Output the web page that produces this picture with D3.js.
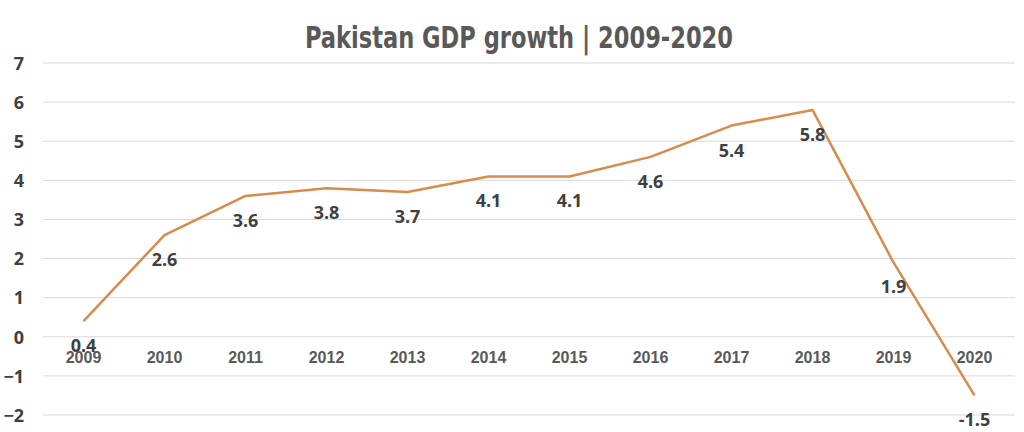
<!DOCTYPE html>
<html><head><meta charset="utf-8">
<script src="https://cdn.jsdelivr.net/npm/d3@7"></script>
<style>body{margin:0;background:#fff}svg{display:block}</style>
</head><body>
<script>
const years = ["2009","2010","2011","2012","2013","2014","2015","2016","2017","2018","2019","2020"];
const growth = [0.4,2.6,3.6,3.8,3.7,4.1,4.1,4.6,5.4,5.8,1.9,-1.5];
const yTicks = [-2,-1,0,1,2,3,4,5,6,7];
const title = "Pakistan GDP growth | 2009-2020";

const W=1024,H=432;
const svg=d3.select("body").append("svg").attr("width",W).attr("height",H);
const x=d3.scaleBand().domain(years).range([43,1015]);
const y=d3.scaleLinear().domain([-2,7]).range([415,63]);

svg.append("text").attr("x",519).attr("y",48).attr("text-anchor","middle")
  .attr("font-family","'Liberation Sans Narrow','DejaVu Sans Condensed',sans-serif")
  .attr("font-weight",700).attr("font-size",31).attr("fill","#595959").text(title)
  .each(function(){const w=this.getComputedTextLength(); if(Math.abs(w-428)>4) d3.select(this).attr("textLength",428).attr("lengthAdjust","spacingAndGlyphs");});

const grid=svg.append("g");
grid.selectAll("line").data(yTicks).join("line")
  .attr("x1",43).attr("x2",1015).attr("y1",d=>y(d)).attr("y2",d=>y(d))
  .attr("stroke","#d9d9d9").attr("stroke-width",1);

const yAxis=d3.axisLeft(y).tickValues(yTicks).tickSize(0).tickPadding(0);
const ya=svg.append("g").attr("transform","translate(24,0)").call(yAxis);
ya.select(".domain").remove();
ya.selectAll("text").attr("font-family","'Open Sans',sans-serif").attr("font-weight",700)
  .attr("font-size",18).attr("fill","#404040").attr("dy","0.35em");

const xAxis=d3.axisBottom(x).tickSize(0).tickPadding(0);
const xa=svg.append("g").attr("transform",`translate(0,${y(0)+15})`).call(xAxis);
xa.select(".domain").remove();
xa.selectAll("text").attr("font-family","'Liberation Sans',Arial,sans-serif").attr("font-weight",700)
  .attr("font-size",16).attr("fill","#595959");

const line=d3.line().x((d,i)=>x(years[i])+x.bandwidth()/2).y(d=>y(d));
svg.append("path").datum(growth).attr("d",line).attr("fill","none")
  .attr("stroke","#d88b4b").attr("stroke-width",2.5).attr("stroke-linejoin","round");

svg.append("g").selectAll("text").data(growth).join("text")
  .attr("x",(d,i)=>x(years[i])+x.bandwidth()/2).attr("y",d=>y(d)+31)
  .attr("text-anchor","middle").attr("font-family","'Open Sans',sans-serif")
  .attr("font-weight",700).attr("font-size",18).attr("fill","#404040").text(d=>d);
</script>
</body></html>
